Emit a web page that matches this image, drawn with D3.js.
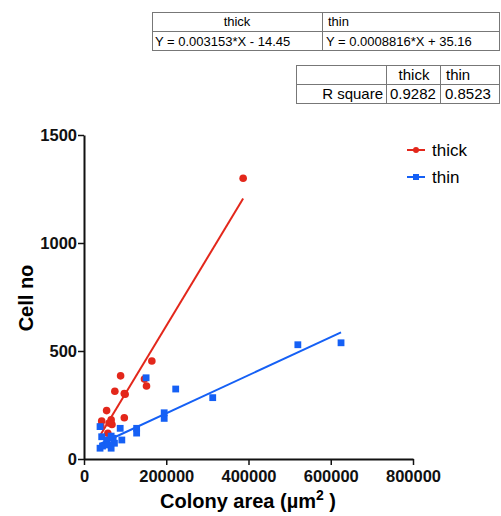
<head>
    <script src="https://d3js.org/d3.v7.min.js"></script>
    <style>
        body { margin: 0; background: #fff; }
        svg { font-family: "Liberation Sans", Arial, sans-serif; }
    </style>
</head>

<body>
    <div id="chart"></div>
</body>

<script>
    // colony area (um^2), cell number
    const thickX = [387000, 165000, 147000, 152000, 89000, 75000, 98000, 100000, 55000, 98000, 66000, 43000, 61000, 68000, 58000, 41000];
    const thickY = [1300, 454, 370, 338, 385, 314, 303, 300, 224, 191, 181, 176, 167, 160, 119, 153];
    const thinX = [625000, 520000, 313000, 151000, 223000, 195000, 195000, 128000, 128000, 92000, 88000, 39000, 43000, 39000, 45000, 66000, 66000, 55000, 74000, 71000, 59000];
    const thinY = [538, 529, 284, 376, 324, 214, 188, 142, 120, 88, 142, 150, 103, 50, 60, 106, 50, 88, 73, 96, 65];

    const seriesNames = ["thick", "thin"];
    const slopes = [0.003153, 0.0008816];
    const intercepts = [-14.45, 35.16];
    const equations = ["Y = 0.003153*X - 14.45", "Y = 0.0008816*X + 35.16"];
    const rSquare = ["0.9282", "0.8523"];

    const xTicks = [0, 200000, 400000, 600000, 800000];
    const yTicks = [0, 500, 1000, 1500];

    const colors = ["#e3271b", "#1560f5"];

    const svg = d3.select("#chart").append("svg")
        .attr("width", 501)
        .attr("height", 516);

    const x = d3.scaleLinear().domain([0, 800000]).range([84, 413]);
    const y = d3.scaleLinear().domain([0, 1500]).range([459, 135]);

    // tables on top
    function cell(g, x0, y0, w, h) {
        g.append("rect").attr("x", x0).attr("y", y0).attr("width", w).attr("height", h)
            .attr("fill", "#fff").attr("stroke", "#777").attr("stroke-width", 1);
    }
    const t1 = svg.append("g").style("font-size", "13px");
    cell(t1, 152.5, 12.5, 170, 19); cell(t1, 322.5, 12.5, 177, 19);
    cell(t1, 152.5, 31.5, 170, 19); cell(t1, 322.5, 31.5, 177, 19);
    t1.append("text").attr("x", 237).attr("y", 26).attr("text-anchor", "middle").text(seriesNames[0]);
    t1.append("text").attr("x", 328).attr("y", 26).text(seriesNames[1]);
    t1.append("text").attr("x", 155).attr("y", 46).text(equations[0]);
    t1.append("text").attr("x", 326).attr("y", 46).text(equations[1]);

    const t2 = svg.append("g").style("font-size", "15px");
    cell(t2, 296.5, 65.5, 90, 19); cell(t2, 386.5, 65.5, 54, 19); cell(t2, 440.5, 65.5, 59, 19);
    cell(t2, 296.5, 84.5, 90, 19); cell(t2, 386.5, 84.5, 54, 19); cell(t2, 440.5, 84.5, 59, 19);
    t2.append("text").attr("x", 414).attr("y", 80).attr("text-anchor", "middle").text(seriesNames[0]);
    t2.append("text").attr("x", 446).attr("y", 80).text(seriesNames[1]);
    t2.append("text").attr("x", 383).attr("y", 99).attr("text-anchor", "end").text("R square");
    t2.append("text").attr("x", 390).attr("y", 99).text(rSquare[0]);
    t2.append("text").attr("x", 445).attr("y", 99).text(rSquare[1]);

    // axes
    const xAxis = svg.append("g").attr("transform", "translate(0,459)")
        .call(d3.axisBottom(x).tickValues(xTicks).tickFormat(d3.format("d")).tickSize(6).tickSizeOuter(0));
    const yAxis = svg.append("g").attr("transform", "translate(84,0)")
        .call(d3.axisLeft(y).tickValues(yTicks).tickFormat(d3.format("d")).tickSize(6).tickSizeOuter(0));
    [xAxis, yAxis].forEach(a => {
        a.select(".domain").attr("stroke", "#111").attr("stroke-width", 2);
        a.selectAll(".tick line").attr("stroke", "#111").attr("stroke-width", 1.5);
        a.selectAll("text").attr("fill", "#111").style("font-size", "16.5px").style("font-weight", "bold")
            .style("font-family", "Liberation Sans, Arial, sans-serif");
    });
    xAxis.selectAll("text").attr("dy", "0.85em");
    yAxis.selectAll("text").attr("x", -7);

    svg.append("text").attr("transform", "translate(33,298) rotate(-90)")
        .attr("text-anchor", "middle").style("font-size", "20px").style("font-weight", "bold")
        .text("Cell no");
    const xl = svg.append("text").attr("x", 248).attr("y", 508)
        .attr("text-anchor", "middle").style("font-size", "20px").style("font-weight", "bold");
    xl.append("tspan").text("Colony area (\u00b5m");
    xl.append("tspan").attr("dy", -8).style("font-size", "14px").text("2");
    xl.append("tspan").attr("dy", 8).text(" )");

    // regression lines
    const xs = [thickX, thinX];
    xs.forEach((arr, i) => {
        const ext = d3.extent(arr);
        svg.append("line")
            .attr("x1", x(ext[0])).attr("y1", y(slopes[i] * ext[0] + intercepts[i]))
            .attr("x2", x(ext[1])).attr("y2", y(slopes[i] * ext[1] + intercepts[i]))
            .attr("stroke", colors[i]).attr("stroke-width", 2);
    });

    // points
    svg.selectAll(".thick").data(d3.zip(thickX, thickY)).enter().append("circle")
        .attr("cx", d => x(d[0])).attr("cy", d => y(d[1])).attr("r", 3.8)
        .attr("fill", colors[0]);
    svg.selectAll(".thin").data(d3.zip(thinX, thinY)).enter().append("rect")
        .attr("x", d => x(d[0]) - 3.4).attr("y", d => y(d[1]) - 3.4)
        .attr("width", 6.8).attr("height", 6.8)
        .attr("fill", colors[1]);

    // legend
    const leg = svg.append("g");
    seriesNames.forEach((n, i) => {
        const ly = 150 + i * 27;
        leg.append("line").attr("x1", 407).attr("x2", 425).attr("y1", ly).attr("y2", ly)
            .attr("stroke", colors[i]).attr("stroke-width", 2);
        if (i === 0) leg.append("circle").attr("cx", 416).attr("cy", ly).attr("r", 3).attr("fill", colors[i]);
        else leg.append("rect").attr("x", 413).attr("y", ly - 3).attr("width", 6).attr("height", 6).attr("fill", colors[i]);
        leg.append("text").attr("x", 432).attr("y", ly + 6).style("font-size", "17px").text(n);
    });
</script>
